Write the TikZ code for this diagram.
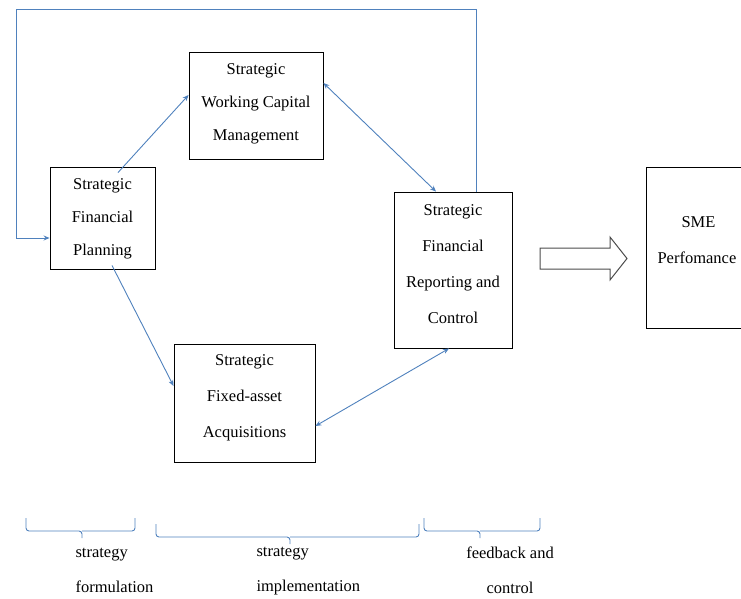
\documentclass[tikz,border=0pt]{standalone}
\usepackage{fontspec}
\setmainfont{Liberation Serif}
\usetikzlibrary{arrows.meta, calc}
\definecolor{linkblue}{HTML}{4F81BD}
\tikzset{
  box/.style={draw=black, line width=0.9pt, inner sep=0pt},
  boxtext/.style={align=center, font=\fontsize{16.5}{33}\selectfont},
  widetext/.style={align=center, font=\fontsize{16.5}{36}\selectfont},
  link/.style={-{Stealth[length=6pt, width=5pt]}, line width=0.9pt, color=linkblue},
  twoway/.style={{Stealth[length=6pt, width=5pt]}-{Stealth[length=6pt, width=5pt]}, line width=0.9pt, color=linkblue},
  brc/.style={line width=0.9pt, color=linkblue, rounded corners=3pt},
  phase/.style={font=\fontsize{16.5}{35}\selectfont}
}
\begin{document}
\begin{tikzpicture}[x=1pt, y=-1pt]
\useasboundingbox (0,0) rectangle (741,598);
\clip (0,0) rectangle (741,598);
% boxes
\node[box, minimum width=105pt, minimum height=102pt] (pln) at (102.5,218) {};
\node[boxtext] (pln-t) at (102.5,219) {Strategic\\Financial\\Planning};
\node[box, minimum width=134pt, minimum height=107pt] (wcm) at (256,105.5) {};
\node[boxtext] (wcm-t) at (256,104) {Strategic\\Working Capital\\Management};
\node[box, minimum width=118pt, minimum height=156pt] (rep) at (453,270) {};
\node[widetext] (rep-t) at (453,264) {Strategic\\Financial\\Reporting and\\Control};
\node[box, minimum width=141pt, minimum height=118pt] (fix) at (244.5,403) {};
\node[widetext] (fix-t) at (244.5,398) {Strategic\\Fixed-asset\\Acquisitions};
\node[box, minimum width=99pt, minimum height=161pt] (sme) at (695.5,247.5) {};
\node[widetext, align=left, anchor=west] (sme-t) at (654,240) {\hspace*{24pt}SME\\Perfomance};
% connectors
\draw[link] ([xshift=15.5pt, yshift=-6pt]pln.north) -- ([yshift=10.5pt]wcm.west);
\draw[link] ([xshift=9.5pt, yshift=4pt]pln.south) -- ([yshift=17pt]fix.west);
\draw[twoway] ([yshift=22.5pt]wcm.east) -- ([xshift=-17pt]rep.north);
\draw[twoway] ([yshift=-23pt]fix.east) -- ([xshift=-4pt]rep.south);
\coordinate (fbk) at (16,9);
\draw[link] ([xshift=23pt]rep.north) |- (fbk) |- ([yshift=-20pt]pln.west);
% block arrow to SME
\draw[line width=1pt, draw=black!70, fill=white] (540,248) -- (610,248) -- (610,237) -- (627,258.5)
  -- (610,280) -- (610,269) -- (540,269) -- cycle;
% braces
\draw[brc] (26,518) |- (82,531) -- (82,538);
\draw[brc] (82,531) -| (135,518);
\draw[brc] (156,524) |- (290,537) -- (290,544);
\draw[brc] (290,537) -| (419,524);
\draw[brc] (424,518) |- (480,531) -- (480,538);
\draw[brc] (480,531) -| (540,518);
% phase labels
\node[phase, align=left, anchor=west] (frm) at (72,570.5) {strategy\\formulation};
\node[phase, align=left, anchor=west] (imp) at (253,571.5) {strategy\\implementation};
\node[phase, align=center] (fdb) at (510,570.5) {feedback and\\control};
\end{tikzpicture}
\end{document}
